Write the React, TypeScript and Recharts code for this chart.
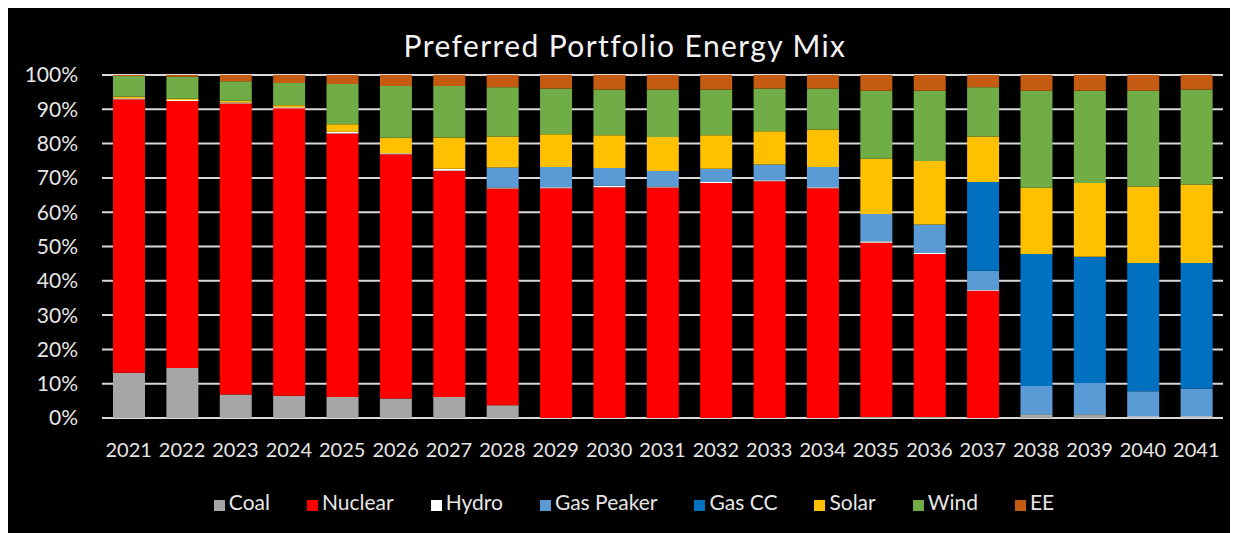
import { BarChart, Bar, XAxis, YAxis, CartesianGrid, Legend } from 'recharts'

const years = [
  '2021', '2022', '2023', '2024', '2025', '2026', '2027', '2028', '2029', '2030', '2031',
  '2032', '2033', '2034', '2035', '2036', '2037', '2038', '2039', '2040', '2041',
]

const coal = [13.2, 14.6, 6.8, 6.5, 6.1, 5.7, 6.1, 3.7, 0, 0, 0, 0, 0, 0, 0.3, 0.3, 0, 0.7, 0.8, 0.2, 0.2]
const nuclear = [79.7, 77.8, 84.6, 83.8, 76.6, 71.2, 66.0, 63.2, 67.0, 67.3, 67.2, 68.5, 69.0, 67.0, 50.8, 47.5, 37.1, 0, 0, 0, 0]
const hydro = [0.3, 0.3, 0.3, 0.3, 0.5, 0.3, 0.6, 0.3, 0.3, 0.4, 0.3, 0.3, 0.3, 0.3, 0.4, 0.3, 0.2, 0.3, 0.2, 0.3, 0.3]
const gasPeaker = [0, 0, 0, 0, 0, 0, 0, 5.8, 5.9, 5.2, 4.5, 3.9, 4.6, 5.9, 8.0, 8.3, 5.6, 8.3, 9.2, 7.3, 8.1]
const gasCC = [0, 0, 0, 0, 0, 0, 0, 0, 0, 0, 0, 0, 0, 0, 0, 0, 25.9, 38.5, 36.8, 37.4, 36.6]
const solar = [0.5, 0.4, 0.5, 0.6, 2.2, 4.5, 9.1, 9.1, 9.5, 9.5, 9.9, 9.7, 9.7, 10.9, 16.1, 18.5, 13.3, 19.3, 21.5, 22.3, 22.9]
const wind = [6.0, 6.4, 5.7, 6.5, 11.7, 15.1, 15.0, 14.3, 13.4, 13.4, 13.9, 13.4, 12.5, 12.0, 19.8, 20.5, 14.3, 28.3, 26.9, 27.9, 27.7]
const ee = [0.3, 0.5, 1.8, 2.3, 2.6, 3.2, 3.2, 3.6, 3.9, 4.2, 4.2, 4.2, 3.9, 3.9, 4.6, 4.6, 3.6, 4.6, 4.6, 4.6, 4.2]

const yTicks = [0, 0.1, 0.2, 0.3, 0.4, 0.5, 0.6, 0.7, 0.8, 0.9, 1]

const data = years.map((year, i) => ({
  year,
  coal: coal[i],
  nuclear: nuclear[i],
  hydro: hydro[i],
  gasPeaker: gasPeaker[i],
  gasCC: gasCC[i],
  solar: solar[i],
  wind: wind[i],
  ee: ee[i],
}))

const series = [
  { key: 'coal', name: 'Coal', color: '#a6a6a6' },
  { key: 'nuclear', name: 'Nuclear', color: '#ff0000' },
  { key: 'hydro', name: 'Hydro', color: '#ffffff' },
  { key: 'gasPeaker', name: 'Gas Peaker', color: '#5b9bd5' },
  { key: 'gasCC', name: 'Gas CC', color: '#0070c0' },
  { key: 'solar', name: 'Solar', color: '#ffc000' },
  { key: 'wind', name: 'Wind', color: '#70ad47' },
  { key: 'ee', name: 'EE', color: '#c55a11' },
]

const font = 'Lato, "Open Sans", sans-serif'

export default function App() {
  return (
    <div
      style={{
        position: 'relative',
        marginLeft: -3,
        width: 1233,
        height: 525,
        background: '#000',
        fontFamily: font,
      }}
    >
      <style>{`.recharts-legend-item { margin-right: 37px !important; }`}</style>
      <div
        style={{
          position: 'absolute',
          top: 18,
          left: 0,
          width: 1240,
          textAlign: 'center',
          color: '#f2f2f2',
          fontSize: 30,
          letterSpacing: 1.4,
          lineHeight: '38px',
        }}
      >
        Preferred Portfolio Energy Mix
      </div>
      <BarChart
        width={1233}
        height={525}
        data={data}
        stackOffset="expand"
        margin={{ top: 67, right: 15, bottom: 14, left: 17 }}
      >
        <CartesianGrid vertical={false} stroke="#d9d9d9" strokeWidth={2} />
        <XAxis
          dataKey="year"
          axisLine={false}
          tickLine={false}
          tickMargin={19}
          height={71}
          interval={0}
          tick={{ fill: '#e6e6e6', fontSize: 20, fontFamily: font }}
        />
        <YAxis
          domain={[0, 1]}
          ticks={yTicks}
          tickFormatter={(v: number) => `${Math.round(v * 100)}%`}
          axisLine={false}
          tickLine={false}
          tickMargin={18}
          width={80}
          tick={{ fill: '#e6e6e6', fontSize: 21, fontFamily: font }}
        />
        <Legend
          verticalAlign="bottom"
          height={30}
          iconType="square"
          iconSize={11}
          wrapperStyle={{ marginLeft: 30 }}
          itemSorter={(item: any) => series.findIndex((s) => s.key === item.dataKey)}
          formatter={(value: string) => (
            <span style={{ color: '#e6e6e6', fontSize: 21, fontFamily: font }}>{value}</span>
          )}
        />
        {series.map((s) => (
          <Bar
            key={s.key}
            dataKey={s.key}
            name={s.name}
            stackId="mix"
            fill={s.color}
            barSize={32}
            isAnimationActive={false}
          />
        ))}
      </BarChart>
    </div>
  )
}
